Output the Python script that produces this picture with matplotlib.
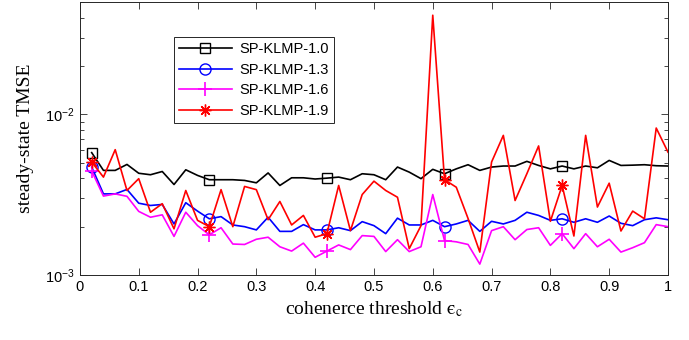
import numpy as np
import matplotlib
matplotlib.use("Agg")
import matplotlib.pyplot as plt

plt.rcParams['font.family'] = ['Liberation Sans', 'DejaVu Sans']
plt.rcParams['mathtext.fontset'] = 'stix'

# coherence threshold values (markers every 10th point)
eps_c = np.round(np.arange(1, 51) * 0.02, 2)

# steady-state TMSE (units of 1e-3)
klmp_10 = [5.78, 4.48, 4.48, 4.88, 4.30, 4.21, 4.41, 3.66, 4.52, 4.17,
           3.92, 3.92, 3.92, 3.88, 3.75, 4.32, 3.61, 4.03, 4.03, 3.96,
           4.01, 4.07, 3.92, 4.27, 4.21, 3.92, 4.70, 4.37, 3.98, 4.55,
           4.27, 4.58, 4.86, 4.48, 4.70, 4.77, 4.77, 5.10, 4.81, 4.58,
           4.77, 4.58, 4.77, 4.65, 5.17, 4.81, 4.83, 4.86, 4.79, 4.77]
klmp_13 = [4.70, 3.20, 3.20, 3.41, 2.80, 2.71, 2.75, 2.08, 2.82, 2.50,
           2.24, 2.31, 2.05, 2.00, 1.91, 2.29, 1.87, 1.87, 2.06, 1.91,
           1.91, 1.97, 1.89, 2.15, 2.03, 1.81, 2.26, 2.05, 2.05, 2.19,
           2.00, 2.08, 2.19, 1.87, 2.16, 2.08, 2.19, 2.46, 2.35, 2.19,
           2.24, 2.13, 2.24, 2.13, 2.33, 2.10, 2.03, 2.21, 2.27, 2.21]
klmp_16 = [4.45, 3.10, 3.20, 3.09, 2.49, 2.29, 2.37, 1.74, 2.46, 2.03,
           1.78, 1.97, 1.56, 1.55, 1.67, 1.72, 1.50, 1.41, 1.58, 1.29,
           1.41, 1.54, 1.44, 1.76, 1.74, 1.40, 1.66, 1.40, 1.50, 3.17,
           1.64, 1.61, 1.55, 1.17, 1.89, 2.00, 1.66, 1.92, 1.97, 1.53,
           1.81, 1.46, 1.81, 1.50, 1.67, 1.39, 1.48, 1.59, 2.06, 2.00]
klmp_19 = [5.05, 4.07, 6.03, 3.36, 3.98, 2.46, 2.78, 1.94, 3.36, 2.19,
           2.00, 3.40, 2.00, 3.56, 3.40, 2.21, 2.87, 2.05, 2.35, 1.72,
           1.81, 3.61, 1.89, 3.17, 3.84, 3.36, 3.05, 1.46, 2.03, 41.4,
           3.92, 3.52, 2.25, 1.39, 5.05, 7.40, 2.91, 4.27, 6.36, 2.16,
           3.61, 1.75, 7.40, 2.65, 3.73, 1.88, 2.50, 2.24, 8.22, 5.82]

series = [
    ("SP-KLMP-1.0", klmp_10, 'k', 's', 7, 1.0),
    ("SP-KLMP-1.3", klmp_13, '#0000ff', 'o', 8, 1.0),
    ("SP-KLMP-1.6", klmp_16, '#ff00ff', '+', 10, 1.2),
    ("SP-KLMP-1.9", klmp_19, '#ff0000', (8, 2, 0), 8.5, 1.0),
]

fig = plt.figure(figsize=(6.89, 3.4), dpi=100)
ax = fig.add_axes([0.116, 0.191, 0.8535, 0.803])

for name, vals, col, mk, ms, mew in series:
    ax.plot(eps_c, np.array(vals) * 1e-3, color=col, lw=1.2, marker=mk,
            markevery=10, markersize=ms, markerfacecolor='none',
            markeredgecolor=col, markeredgewidth=mew, label=name)

ax.set_yscale('log')
ax.set_xlim(0, 1)
ax.set_ylim(1e-3, 5e-2)
ax.set_xticks(np.arange(0, 1.01, 0.1))
ax.set_xticklabels(['0', '0.1', '0.2', '0.3', '0.4', '0.5', '0.6', '0.7', '0.8', '0.9', '1'])
ax.tick_params(which='both', direction='in', top=True, right=True,
               labelsize=10.5, color='#262626', width=0.6)
ax.tick_params(which='major', length=5)
ax.tick_params(which='minor', length=3)
ax.tick_params(axis='x', which='minor', top=False, bottom=False)
for sp in ax.spines.values():
    sp.set_linewidth(0.7)
    sp.set_color('#262626')

ax.set_xlabel('cohenerce threshold $\\mathrm{\u03f5}_{\\mathrm{c}}$', fontsize=14,
              family='Liberation Serif', labelpad=4)
ax.set_ylabel('steady-state TMSE', fontsize=14, family='Liberation Serif',
              labelpad=8)

leg = ax.legend(loc='upper left', bbox_to_anchor=(0.16, 0.872), borderaxespad=0,
                fontsize=10.5, handlelength=3.6, fancybox=False, framealpha=1,
                edgecolor='#262626', borderpad=0.35, labelspacing=0.45,
                handletextpad=0.5)
leg.get_frame().set_linewidth(0.7)

fig.savefig('out.png', dpi=100)
